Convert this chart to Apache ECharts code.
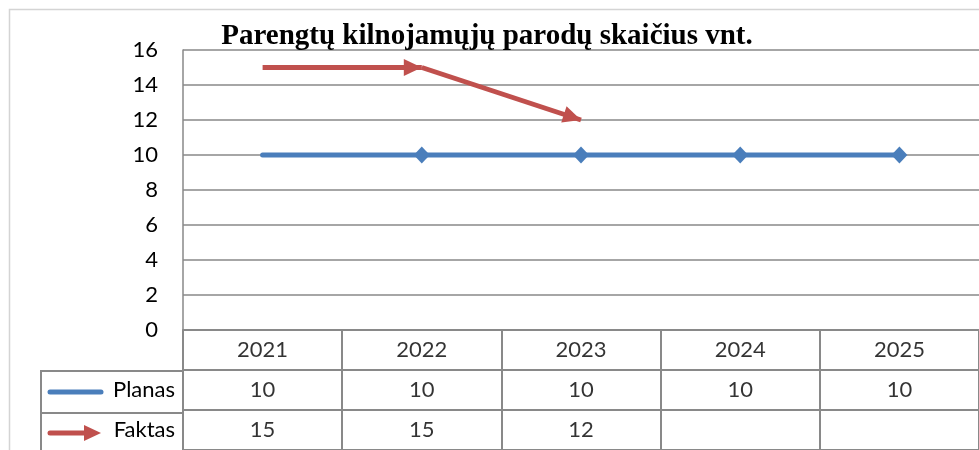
<!DOCTYPE html>
<html><head><meta charset="utf-8">
<script src="https://cdn.jsdelivr.net/npm/echarts@6/dist/echarts.min.js"></script>
<style>html,body{margin:0;padding:0;background:#fff}#c{width:979px;height:450px}</style>
</head><body><div id="c"></div>
<script>
const categories = ['2021', '2022', '2023', '2024', '2025'];
const planas = [10, 10, 10, 10, 10];
const faktas = [15, 15, 12, null, null];
const yMin = 0, yMax = 16, yStep = 2;
const seriesNames = ['Planas', 'Faktas'];
const tableRows = ['Metai', 'Planas', 'Faktas'];
const titleText = 'Parengtų kilnojamųjų parodų skaičius vnt.';

const BLUE = '#4a7ebb', RED = '#c0504d', GRID = '#898989';
const FONT = 'Lato';

const tableData = [];
categories.forEach((c, i) => {
  tableData.push([c, 'Metai', c]);
  if (planas[i] != null) tableData.push([c, 'Planas', String(planas[i])]);
  if (faktas[i] != null) tableData.push([c, 'Faktas', String(faktas[i])]);
});

const arrowSegs = [];
for (let i = 0; i < faktas.length - 1; i++) {
  if (faktas[i] != null && faktas[i + 1] != null) {
    arrowSegs.push([{ coord: [categories[i], faktas[i]] }, { coord: [categories[i + 1], faktas[i + 1]] }]);
  }
}

// triangle whose tip sits at the symbol centre (bbox extended upward by an empty moveTo)
const ARROW_HEAD = 'path://M0,-18M0,0L8,18L-8,18Z';

const chart = echarts.init(document.getElementById('c'), null, { renderer: 'canvas' });
chart.setOption({
  animation: false,
  backgroundColor: '#fff',
  title: {
    text: titleText, left: 482, top: 17, textAlign: 'center',
    textStyle: { fontFamily: 'Liberation Serif', fontWeight: 'bold', fontSize: 29, color: '#000' }
  },
  grid: [
    { left: 183, top: 50, width: 798, height: 280 },
    { left: 183, top: 330, width: 798, height: 124 }
  ],
  xAxis: [
    { type: 'category', gridIndex: 0, data: categories, boundaryGap: true,
      axisLine: { show: false },
      axisTick: { show: false }, axisLabel: { show: false }, splitLine: { show: false } },
    { type: 'category', gridIndex: 1, data: categories, boundaryGap: true,
      axisLine: { show: true, lineStyle: { color: GRID, width: 2 } },
      axisTick: { show: false }, axisLabel: { show: false },
      splitLine: { show: true, interval: 0, lineStyle: { color: GRID, width: 2 } } }
  ],
  yAxis: [
    { type: 'value', gridIndex: 0, min: yMin, max: yMax, interval: yStep,
      axisLine: { show: true, lineStyle: { color: GRID, width: 1.5 } },
      axisTick: { show: false },
      axisLabel: { fontFamily: FONT, fontSize: 22, color: '#000', margin: 25 },
      splitLine: { show: true, lineStyle: { color: GRID, width: 1.5 } } },
    { type: 'category', gridIndex: 1, data: tableRows, inverse: true,
      axisLine: { show: true, lineStyle: { color: GRID, width: 2 } },
      axisTick: { show: false },
      axisLabel: { fontFamily: FONT, fontSize: 22, color: '#000', margin: 8,
        formatter: v => (v === 'Metai' ? '' : v) },
      splitLine: { show: true, interval: 0, lineStyle: { color: GRID, width: 2 } } }
  ],
  graphic: [
    { type: 'rect', silent: true, shape: { x: 9.5, y: 9.5, width: 1000, height: 500 },
      style: { fill: 'none', stroke: '#d4d4d4', lineWidth: 1.5 } },
    { type: 'line', silent: true, shape: { x1: 41, y1: 371, x2: 183, y2: 371 }, style: { stroke: GRID, lineWidth: 2 } },
    { type: 'line', silent: true, shape: { x1: 41, y1: 413, x2: 183, y2: 413 }, style: { stroke: GRID, lineWidth: 2 } },
    { type: 'line', silent: true, shape: { x1: 41, y1: 370, x2: 41, y2: 460 }, style: { stroke: GRID, lineWidth: 2 } },
    { type: 'line', silent: true, shape: { x1: 50, y1: 392, x2: 101, y2: 392 },
      style: { stroke: BLUE, lineWidth: 5, lineCap: 'round' } },
    { type: 'line', silent: true, shape: { x1: 50, y1: 433, x2: 88, y2: 433 },
      style: { stroke: RED, lineWidth: 5, lineCap: 'round' } },
    { type: 'polygon', silent: true, shape: { points: [[84, 425], [101, 433], [84, 441]] },
      style: { fill: RED } }
  ],
  series: [
    { name: seriesNames[0], type: 'line', xAxisIndex: 0, yAxisIndex: 0,
      data: planas.map((v, i) => (i === 0 ? { value: v, symbol: 'none' } : v)),
      symbol: 'diamond', symbolSize: [16, 17], showSymbol: true,
      lineStyle: { color: BLUE, width: 5, cap: 'round' }, itemStyle: { color: BLUE } },
    { name: seriesNames[1], type: 'line', xAxisIndex: 0, yAxisIndex: 0,
      data: faktas, symbol: 'none', connectNulls: false,
      lineStyle: { color: RED, width: 5, opacity: 0 },
      markLine: { silent: true, symbol: ['none', ARROW_HEAD], symbolSize: [17, 36],
        label: { show: false },
        lineStyle: { color: RED, width: 5, type: 'solid', cap: 'butt', opacity: 1 },
        itemStyle: { color: RED },
        emphasis: { disabled: true },
        data: arrowSegs } },
    { name: 'table', type: 'scatter', xAxisIndex: 1, yAxisIndex: 1,
      data: tableData, symbolSize: 0, silent: true,
      label: { show: true, position: 'inside', formatter: p => p.value[2],
        fontFamily: FONT, fontSize: 22, color: '#000' } }
  ]
});
</script></body></html>
